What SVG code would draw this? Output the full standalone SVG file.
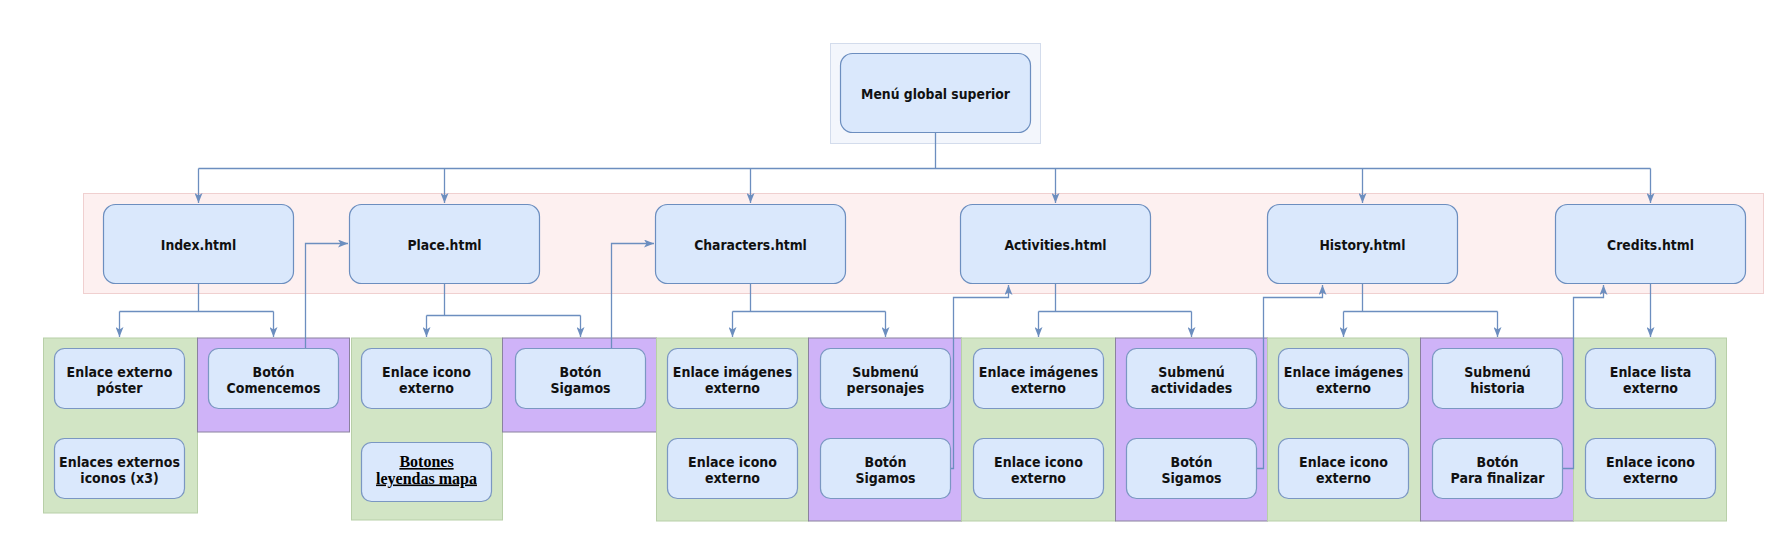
<svg xmlns="http://www.w3.org/2000/svg" width="1782" height="540" viewBox="0 0 1782 540">
<style>
.bg{fill:#ffffff}
.top{fill:#f3f6fc;stroke:#d3dcec;stroke-width:1}
.band{fill:#fdf0f0;stroke:#f0d0d0;stroke-width:1}
.g{fill:#d2e5c5;stroke:#b8cfa8;stroke-width:1}
.p{fill:#cfb3f8;stroke:#8a829e;stroke-width:1}
.n1{fill:#dae8fc;stroke:#6c8ebf;stroke-width:1.2}
.n2{fill:#dae8fc;stroke:#7b97c2;stroke-width:1.2}
.t1{font-family:"DejaVu Sans Condensed","DejaVu Sans",sans-serif;font-stretch:condensed;font-weight:bold;font-size:13.8px;fill:#111;text-anchor:middle}
.t2{font-family:"DejaVu Sans Condensed","DejaVu Sans",sans-serif;font-stretch:condensed;font-weight:bold;font-size:14px;fill:#111;text-anchor:middle}
.ts{font-family:"Liberation Serif","Times New Roman",serif;font-weight:bold;font-size:16px;fill:#000;text-anchor:middle;text-decoration:underline}
.c{fill:none;stroke:#6c8ebf;stroke-width:1.3}
</style>
<defs>
<marker id="arr" viewBox="0 0 10 8" refX="10" refY="4" markerWidth="10" markerHeight="8" markerUnits="userSpaceOnUse" orient="auto">
<path d="M0,0 L10,4 L0,8 L2.5,4 z" fill="#6c8ebf"/>
</marker>
</defs>
<rect class="bg" x="0" y="0" width="1782" height="540"/>

<g id="containers">
<rect class="top" x="830.5" y="43.5" width="210" height="100"/>
<rect class="band" x="83.5" y="193.5" width="1680" height="100"/>
<rect class="g" x="43.5" y="338" width="154" height="175"/>
<rect class="p" x="197.5" y="338" width="152" height="94"/>
<rect class="g" x="351.5" y="338" width="151" height="182"/>
<rect class="p" x="502.5" y="338" width="154" height="94"/>
<rect class="g" x="656.5" y="338" width="152" height="183"/>
<rect class="p" x="808.5" y="338" width="153" height="183"/>
<rect class="g" x="961.5" y="338" width="154" height="183"/>
<rect class="p" x="1115.5" y="338" width="152" height="183"/>
<rect class="g" x="1267.5" y="338" width="153" height="183"/>
<rect class="p" x="1420.5" y="338" width="153" height="183"/>
<rect class="g" x="1573.5" y="338" width="153" height="183"/>
</g>

<g id="connectors">
<path class="c" d="M935.5,133 V168.5 M198.5,168.5 H1650.5"/>
<path class="c" d="M198.5,168.5 V203" marker-end="url(#arr)"/>
<path class="c" d="M444.5,168.5 V203" marker-end="url(#arr)"/>
<path class="c" d="M750.5,168.5 V203" marker-end="url(#arr)"/>
<path class="c" d="M1055.5,168.5 V203" marker-end="url(#arr)"/>
<path class="c" d="M1362.5,168.5 V203" marker-end="url(#arr)"/>
<path class="c" d="M1650.5,168.5 V203" marker-end="url(#arr)"/>

<path class="c" d="M198.5,284 V311.5 M119.5,311.5 H273.5"/>
<path class="c" d="M119.5,311.5 V337" marker-end="url(#arr)"/>
<path class="c" d="M273.5,311.5 V337" marker-end="url(#arr)"/>
<path class="c" d="M305.5,348 V243.5 H348" marker-end="url(#arr)"/>

<path class="c" d="M444.5,284 V315.5 M426.5,315.5 H580.5"/>
<path class="c" d="M426.5,315.5 V337" marker-end="url(#arr)"/>
<path class="c" d="M580.5,315.5 V337" marker-end="url(#arr)"/>
<path class="c" d="M611.5,348 V243.5 H654" marker-end="url(#arr)"/>

<path class="c" d="M750.5,284 V311.5 M732.5,311.5 H885.5"/>
<path class="c" d="M732.5,311.5 V337" marker-end="url(#arr)"/>
<path class="c" d="M885.5,311.5 V337" marker-end="url(#arr)"/>
<path class="c" d="M950,468.5 H953.5 V297.5 H1008.5 V285" marker-end="url(#arr)"/>

<path class="c" d="M1055.5,284 V311.5 M1038.5,311.5 H1191.5"/>
<path class="c" d="M1038.5,311.5 V337" marker-end="url(#arr)"/>
<path class="c" d="M1191.5,311.5 V337" marker-end="url(#arr)"/>
<path class="c" d="M1256,468.5 H1263.5 V297.5 H1322.5 V285" marker-end="url(#arr)"/>

<path class="c" d="M1362.5,284 V311.5 M1343.5,311.5 H1497.5"/>
<path class="c" d="M1343.5,311.5 V337" marker-end="url(#arr)"/>
<path class="c" d="M1497.5,311.5 V337" marker-end="url(#arr)"/>
<path class="c" d="M1562,468.5 H1573.5 V297.5 H1603.5 V285" marker-end="url(#arr)"/>

<path class="c" d="M1650.5,284 V337" marker-end="url(#arr)"/>
</g>

<g id="menu">
<rect class="n1" x="840.5" y="53.5" width="190" height="79" rx="12"/>
<text class="t1" x="935.5" y="98.5">Menú global superior</text>
</g>

<g id="index">
<rect class="n1" x="103.5" y="204.5" width="190" height="79" rx="12"/>
<text class="t1" x="198.5" y="249.5">Index.html</text>
</g>
<g id="place">
<rect class="n1" x="349.5" y="204.5" width="190" height="79" rx="12"/>
<text class="t1" x="444.5" y="249.5">Place.html</text>
</g>
<g id="characters">
<rect class="n1" x="655.5" y="204.5" width="190" height="79" rx="12"/>
<text class="t1" x="750.5" y="249.5">Characters.html</text>
</g>
<g id="activities">
<rect class="n1" x="960.5" y="204.5" width="190" height="79" rx="12"/>
<text class="t1" x="1055.5" y="249.5">Activities.html</text>
</g>
<g id="history">
<rect class="n1" x="1267.5" y="204.5" width="190" height="79" rx="12"/>
<text class="t1" x="1362.5" y="249.5">History.html</text>
</g>
<g id="credits">
<rect class="n1" x="1555.5" y="204.5" width="190" height="79" rx="12"/>
<text class="t1" x="1650.5" y="249.5">Credits.html</text>
</g>

<g id="index-poster">
<rect class="n2" x="54.5" y="348.5" width="130" height="60" rx="10"/>
<text class="t2" x="119.5" y="377">Enlace externo</text>
<text class="t2" x="119.5" y="393">póster</text>
</g>
<g id="index-iconos">
<rect class="n2" x="54.5" y="438.5" width="130" height="60" rx="10"/>
<text class="t2" x="119.5" y="467">Enlaces externos</text>
<text class="t2" x="119.5" y="483">iconos (x3)</text>
</g>
<g id="index-comencemos">
<rect class="n2" x="208.5" y="348.5" width="130" height="60" rx="10"/>
<text class="t2" x="273.5" y="377">Botón</text>
<text class="t2" x="273.5" y="393">Comencemos</text>
</g>

<g id="place-icono">
<rect class="n2" x="361.5" y="348.5" width="130" height="60" rx="10"/>
<text class="t2" x="426.5" y="377">Enlace icono</text>
<text class="t2" x="426.5" y="393">externo</text>
</g>
<g id="place-leyendas">
<rect class="n2" x="361.5" y="442.5" width="130" height="59" rx="10"/>
<text class="ts" x="426.5" y="467">Botones</text>
<text class="ts" x="426.5" y="483.5">leyendas mapa</text>
</g>
<g id="place-sigamos">
<rect class="n2" x="515.5" y="348.5" width="130" height="60" rx="10"/>
<text class="t2" x="580.5" y="377">Botón</text>
<text class="t2" x="580.5" y="393">Sigamos</text>
</g>

<g id="char-imagenes">
<rect class="n2" x="667.5" y="348.5" width="130" height="60" rx="10"/>
<text class="t2" x="732.5" y="377">Enlace imágenes</text>
<text class="t2" x="732.5" y="393">externo</text>
</g>
<g id="char-icono">
<rect class="n2" x="667.5" y="438.5" width="130" height="60" rx="10"/>
<text class="t2" x="732.5" y="467">Enlace icono</text>
<text class="t2" x="732.5" y="483">externo</text>
</g>
<g id="char-submenu">
<rect class="n2" x="820.5" y="348.5" width="130" height="60" rx="10"/>
<text class="t2" x="885.5" y="377">Submenú</text>
<text class="t2" x="885.5" y="393">personajes</text>
</g>
<g id="char-sigamos">
<rect class="n2" x="820.5" y="438.5" width="130" height="60" rx="10"/>
<text class="t2" x="885.5" y="467">Botón</text>
<text class="t2" x="885.5" y="483">Sigamos</text>
</g>

<g id="act-imagenes">
<rect class="n2" x="973.5" y="348.5" width="130" height="60" rx="10"/>
<text class="t2" x="1038.5" y="377">Enlace imágenes</text>
<text class="t2" x="1038.5" y="393">externo</text>
</g>
<g id="act-icono">
<rect class="n2" x="973.5" y="438.5" width="130" height="60" rx="10"/>
<text class="t2" x="1038.5" y="467">Enlace icono</text>
<text class="t2" x="1038.5" y="483">externo</text>
</g>
<g id="act-submenu">
<rect class="n2" x="1126.5" y="348.5" width="130" height="60" rx="10"/>
<text class="t2" x="1191.5" y="377">Submenú</text>
<text class="t2" x="1191.5" y="393">actividades</text>
</g>
<g id="act-sigamos">
<rect class="n2" x="1126.5" y="438.5" width="130" height="60" rx="10"/>
<text class="t2" x="1191.5" y="467">Botón</text>
<text class="t2" x="1191.5" y="483">Sigamos</text>
</g>

<g id="hist-imagenes">
<rect class="n2" x="1278.5" y="348.5" width="130" height="60" rx="10"/>
<text class="t2" x="1343.5" y="377">Enlace imágenes</text>
<text class="t2" x="1343.5" y="393">externo</text>
</g>
<g id="hist-icono">
<rect class="n2" x="1278.5" y="438.5" width="130" height="60" rx="10"/>
<text class="t2" x="1343.5" y="467">Enlace icono</text>
<text class="t2" x="1343.5" y="483">externo</text>
</g>
<g id="hist-submenu">
<rect class="n2" x="1432.5" y="348.5" width="130" height="60" rx="10"/>
<text class="t2" x="1497.5" y="377">Submenú</text>
<text class="t2" x="1497.5" y="393">historia</text>
</g>
<g id="hist-finalizar">
<rect class="n2" x="1432.5" y="438.5" width="130" height="60" rx="10"/>
<text class="t2" x="1497.5" y="467">Botón</text>
<text class="t2" x="1497.5" y="483">Para finalizar</text>
</g>

<g id="cred-lista">
<rect class="n2" x="1585.5" y="348.5" width="130" height="60" rx="10"/>
<text class="t2" x="1650.5" y="377">Enlace lista</text>
<text class="t2" x="1650.5" y="393">externo</text>
</g>
<g id="cred-icono">
<rect class="n2" x="1585.5" y="438.5" width="130" height="60" rx="10"/>
<text class="t2" x="1650.5" y="467">Enlace icono</text>
<text class="t2" x="1650.5" y="483">externo</text>
</g>
</svg>
